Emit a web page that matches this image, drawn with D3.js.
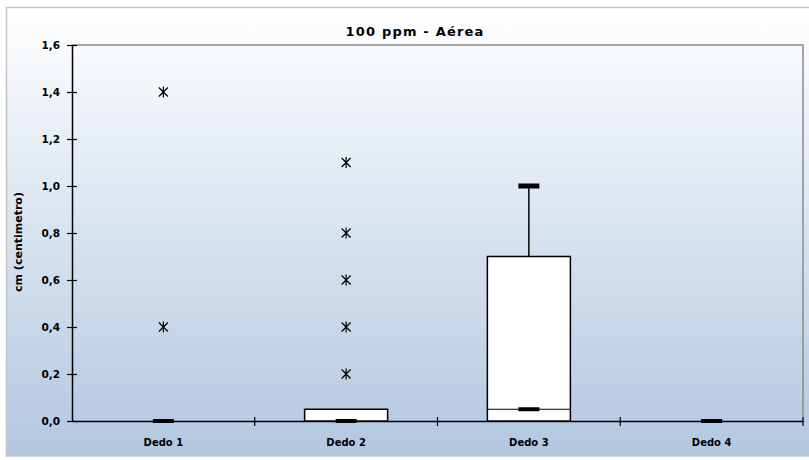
<!DOCTYPE html>
<html><head><meta charset="utf-8">
<script src="https://cdn.jsdelivr.net/npm/d3@7"></script>
<style>body{margin:0;background:#fff}</style>
</head><body>
<svg id="c" width="809" height="460"></svg>
<script>
const categories = ["Dedo 1","Dedo 2","Dedo 3","Dedo 4"];
const q1 = [0,0,0,0];
const q3 = [0,0.05,0.7,0];
const medians = [0,0,0.05,0];
const whiskerMax = [0,0,1.0,0];
const outliers = [[1.4,0.4],[1.1,0.8,0.6,0.4,0.2],[],[]];
const yTicks = [0,0.2,0.4,0.6,0.8,1.0,1.2,1.4,1.6];
const title = "100 ppm - Aérea";
const yLabel = "cm (centimetro)";

const svg = d3.select("#c");
const defs = svg.append("defs");
const g = defs.append("linearGradient").attr("id","bg").attr("x1",0).attr("y1",0).attr("x2",0).attr("y2",1);
g.append("stop").attr("offset","0%").attr("stop-color","#ffffff");
g.append("stop").attr("offset","100%").attr("stop-color","#b2c7e1");

svg.append("rect").attr("x",6.5).attr("y",7.5).attr("width",810).attr("height",448.5)
  .attr("fill","url(#bg)").attr("stroke","#c4c4c4").attr("stroke-width",1.5);

const m = {l:72, t:45, r:803, b:421};
const x = d3.scaleBand().domain(categories).range([m.l, m.r]);
const y = d3.scaleLinear().domain([0,1.6]).range([m.b, m.t]);

svg.append("path").attr("d",`M${m.l},${m.t}H${m.r}V${m.b}`).attr("fill","none")
  .attr("stroke","#8a8a8a").attr("stroke-width",1.5);

const fmt = d => d3.format(".1f")(d).replace(".",",");
const font = "'DejaVu Sans', Verdana, sans-serif";

const ya = svg.append("g").attr("transform",`translate(${m.l},0)`)
  .call(d3.axisLeft(y).tickValues(yTicks).tickFormat(fmt).tickSize(0).tickPadding(12));
ya.select(".domain").attr("stroke","#000").attr("stroke-width",1.5);
ya.selectAll("text").attr("font-family",font).attr("font-size",10.5).attr("font-weight","bold").attr("fill","#000");
ya.selectAll(".tick").append("line").attr("x1",-5).attr("x2",5).attr("stroke","#000").attr("stroke-width",1.2);

const xa = svg.append("g").attr("transform",`translate(0,${m.b})`)
  .call(d3.axisBottom(x).tickSize(0).tickPadding(18));
xa.select(".domain").attr("stroke","#000").attr("stroke-width",1.5);
xa.selectAll("text").attr("font-family",font).attr("font-size",10).attr("font-weight","bold").attr("fill","#000");
const bounds = categories.map(c => x(c)).slice(1).concat([m.r]);
xa.selectAll(".bt").data(bounds).join("line").attr("class","bt")
  .attr("x1",d=>d).attr("x2",d=>d).attr("y1",-4).attr("y2",5).attr("stroke","#000").attr("stroke-width",1.2);

const bw = 83, capW = 21;
const cx = c => x(c) + x.bandwidth()/2;

categories.forEach((c,i) => {
  const X = cx(c);
  if (whiskerMax[i] > q3[i]) {
    svg.append("line").attr("x1",X).attr("x2",X).attr("y1",y(q3[i])).attr("y2",y(whiskerMax[i]))
      .attr("stroke","#000").attr("stroke-width",1.5);
    svg.append("rect").attr("x",X-capW/2).attr("y",y(whiskerMax[i])-2.5).attr("width",capW).attr("height",5).attr("fill","#000");
  }
  if (q3[i] > q1[i]) {
    svg.append("rect").attr("x",X-bw/2).attr("y",y(q3[i])).attr("width",bw).attr("height",y(q1[i])-y(q3[i]))
      .attr("fill","#fff").attr("stroke","#000").attr("stroke-width",1.5);
    if (medians[i] > q1[i]) {
      svg.append("line").attr("x1",X-bw/2).attr("x2",X+bw/2).attr("y1",y(medians[i])).attr("y2",y(medians[i]))
        .attr("stroke","#000").attr("stroke-width",1);
    }
  }
  svg.append("rect").attr("x",X-capW/2).attr("y",y(medians[i])-2).attr("width",capW).attr("height",4).attr("fill","#000");
  outliers[i].forEach(v => {
    const Y = y(v), s = 4.5;
    svg.append("path").attr("d",`M${X-s},${Y-s}L${X+s},${Y+s}M${X+s},${Y-s}L${X-s},${Y+s}M${X},${Y-s-1}V${Y+s+1}`)
      .attr("stroke","#000").attr("stroke-width",1.2).attr("fill","none");
  });
});

svg.append("text").attr("x",415).attr("y",36).attr("text-anchor","middle")
  .attr("font-family",font).attr("font-size",13).attr("font-weight","bold").attr("letter-spacing",1.2).text(title);
svg.append("text").attr("transform","translate(22,242) rotate(-90)").attr("text-anchor","middle")
  .attr("font-family",font).attr("font-size",11).attr("font-weight","bold").text(yLabel);
</script>
</body></html>
